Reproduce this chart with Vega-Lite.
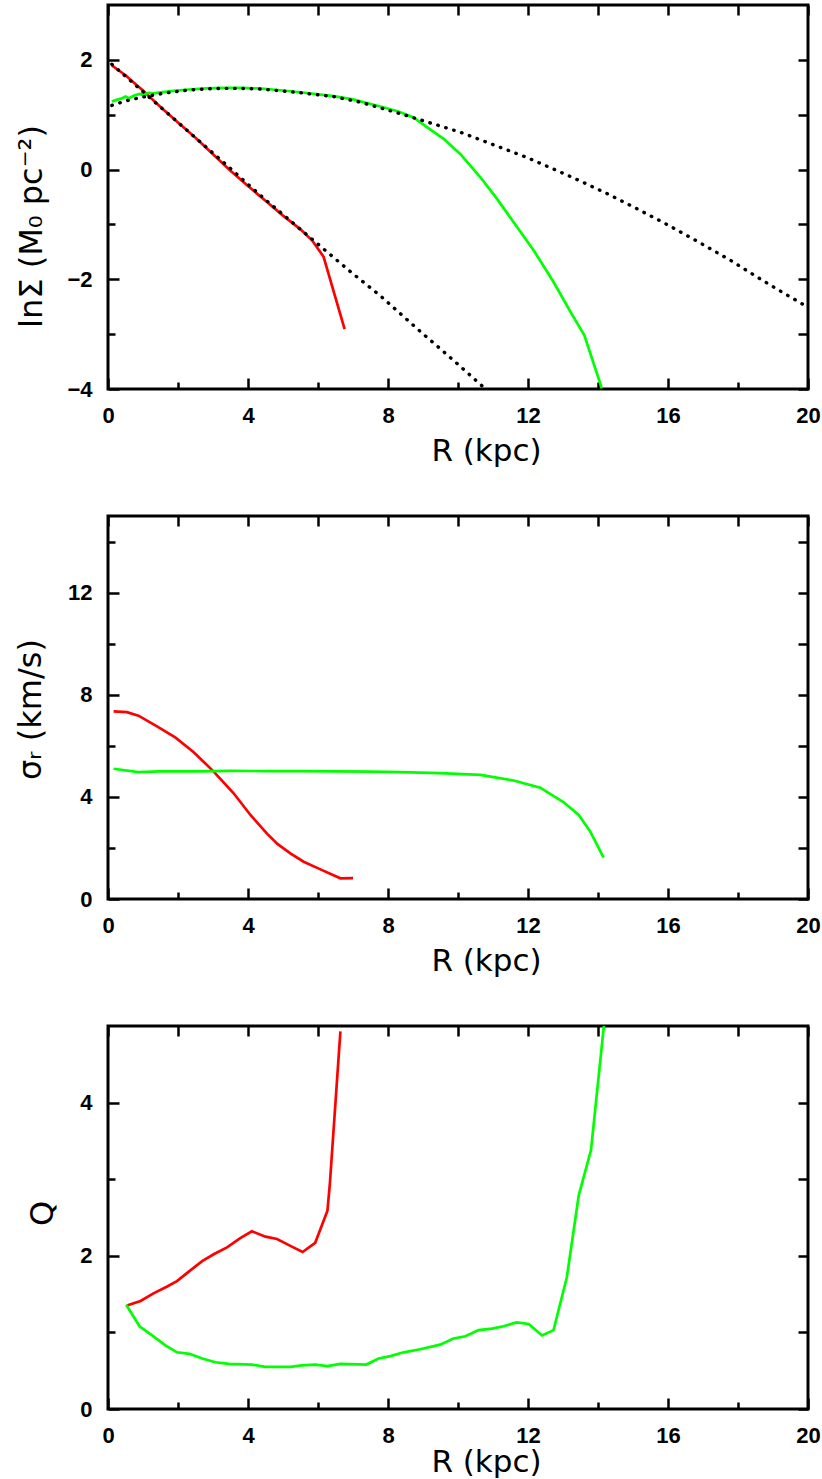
{
  "$schema": "https://vega.github.io/schema/vega-lite/v6.json",
  "padding": {"left": 12, "top": 2, "right": 0, "bottom": 0},
  "background": "white",
  "bounds": "flush",
  "spacing": 127,
  "config": {
    "view": {"stroke": "black", "strokeWidth": 3},
    "axis": {
      "labelFont": "Liberation Sans", "labelFontSize": 22, "labelFontWeight": "bold", "labelColor": "black",
      "titleFont": "DejaVu Sans", "titleFontSize": 31, "titleFontWeight": "normal", "titleColor": "black",
      "tickColor": "black", "tickWidth": 2.5, "domain": false, "grid": false,
      "labelFlush": false, "labelOverlap": false
    }
  },
  "datasets": {
    "p1": [
      {"R": 0.11, "v": 1.90, "s": "a"}, {"R": 0.3, "v": 1.81, "s": "a"}, {"R": 0.5, "v": 1.72, "s": "a"}, {"R": 0.75, "v": 1.58, "s": "a"},
      {"R": 1.0, "v": 1.44, "s": "a"}, {"R": 1.25, "v": 1.29, "s": "a"}, {"R": 1.5, "v": 1.14, "s": "a"}, {"R": 2.0, "v": 0.86, "s": "a"},
      {"R": 2.5, "v": 0.58, "s": "a"}, {"R": 3.0, "v": 0.28, "s": "a"}, {"R": 3.5, "v": -0.02, "s": "a"}, {"R": 4.0, "v": -0.30, "s": "a"},
      {"R": 4.5, "v": -0.57, "s": "a"}, {"R": 5.0, "v": -0.84, "s": "a"}, {"R": 5.5, "v": -1.09, "s": "a"}, {"R": 5.83, "v": -1.29, "s": "a"},
      {"R": 6.16, "v": -1.59, "s": "a"}, {"R": 6.76, "v": -2.91, "s": "a"},

      {"R": 0.11, "v": 1.92, "s": "b"}, {"R": 0.5, "v": 1.70, "s": "b"}, {"R": 1.0, "v": 1.42, "s": "b"}, {"R": 1.5, "v": 1.14, "s": "b"},
      {"R": 2.0, "v": 0.86, "s": "b"}, {"R": 2.5, "v": 0.58, "s": "b"}, {"R": 3.0, "v": 0.30, "s": "b"}, {"R": 3.5, "v": 0.02, "s": "b"},
      {"R": 4.0, "v": -0.27, "s": "b"}, {"R": 4.5, "v": -0.55, "s": "b"}, {"R": 5.0, "v": -0.82, "s": "b"}, {"R": 5.5, "v": -1.09, "s": "b"},
      {"R": 6.0, "v": -1.36, "s": "b"}, {"R": 6.5, "v": -1.63, "s": "b"}, {"R": 7.0, "v": -1.90, "s": "b"}, {"R": 7.78, "v": -2.30, "s": "b"},
      {"R": 8.5, "v": -2.71, "s": "b"}, {"R": 8.92, "v": -2.95, "s": "b"}, {"R": 9.5, "v": -3.27, "s": "b"}, {"R": 10.0, "v": -3.55, "s": "b"},
      {"R": 10.7, "v": -3.95, "s": "b"},

      {"R": 0.11, "v": 1.24, "s": "c"}, {"R": 0.25, "v": 1.27, "s": "c"}, {"R": 0.4, "v": 1.30, "s": "c"}, {"R": 0.5, "v": 1.33, "s": "c"},
      {"R": 0.6, "v": 1.30, "s": "c"}, {"R": 0.75, "v": 1.35, "s": "c"}, {"R": 0.9, "v": 1.38, "s": "c"}, {"R": 1.0, "v": 1.36, "s": "c"},
      {"R": 1.15, "v": 1.40, "s": "c"}, {"R": 1.3, "v": 1.39, "s": "c"}, {"R": 1.5, "v": 1.41, "s": "c"}, {"R": 1.8, "v": 1.43, "s": "c"},
      {"R": 2.3, "v": 1.46, "s": "c"}, {"R": 2.8, "v": 1.48, "s": "c"}, {"R": 3.3, "v": 1.49, "s": "c"}, {"R": 3.8, "v": 1.49, "s": "c"},
      {"R": 4.3, "v": 1.48, "s": "c"}, {"R": 4.7, "v": 1.46, "s": "c"}, {"R": 5.5, "v": 1.41, "s": "c"}, {"R": 6.45, "v": 1.34, "s": "c"},
      {"R": 7.0, "v": 1.28, "s": "c"}, {"R": 7.78, "v": 1.15, "s": "c"}, {"R": 8.3, "v": 1.06, "s": "c"}, {"R": 8.73, "v": 0.95, "s": "c"},
      {"R": 9.1, "v": 0.78, "s": "c"}, {"R": 9.59, "v": 0.56, "s": "c"}, {"R": 10.07, "v": 0.28, "s": "c"}, {"R": 10.64, "v": -0.14, "s": "c"},
      {"R": 11.11, "v": -0.53, "s": "c"}, {"R": 11.59, "v": -0.96, "s": "c"}, {"R": 12.16, "v": -1.47, "s": "c"}, {"R": 12.73, "v": -2.05, "s": "c"},
      {"R": 13.21, "v": -2.59, "s": "c"}, {"R": 13.61, "v": -3.02, "s": "c"}, {"R": 14.11, "v": -3.99, "s": "c"},

      {"R": 0.11, "v": 1.17, "s": "d"}, {"R": 0.5, "v": 1.25, "s": "d"}, {"R": 0.9, "v": 1.31, "s": "d"}, {"R": 1.4, "v": 1.37, "s": "d"},
      {"R": 1.8, "v": 1.41, "s": "d"}, {"R": 2.3, "v": 1.45, "s": "d"}, {"R": 2.8, "v": 1.47, "s": "d"}, {"R": 3.3, "v": 1.48, "s": "d"},
      {"R": 3.8, "v": 1.48, "s": "d"}, {"R": 4.3, "v": 1.47, "s": "d"}, {"R": 4.7, "v": 1.45, "s": "d"}, {"R": 5.5, "v": 1.40, "s": "d"},
      {"R": 6.45, "v": 1.33, "s": "d"}, {"R": 7.2, "v": 1.23, "s": "d"}, {"R": 7.92, "v": 1.10, "s": "d"}, {"R": 8.45, "v": 1.00, "s": "d"},
      {"R": 9.11, "v": 0.87, "s": "d"}, {"R": 10.07, "v": 0.68, "s": "d"}, {"R": 11.02, "v": 0.45, "s": "d"}, {"R": 11.97, "v": 0.22, "s": "d"},
      {"R": 12.87, "v": -0.03, "s": "d"}, {"R": 13.5, "v": -0.21, "s": "d"}, {"R": 14.2, "v": -0.42, "s": "d"}, {"R": 15.1, "v": -0.71, "s": "d"},
      {"R": 16.0, "v": -1.01, "s": "d"}, {"R": 16.9, "v": -1.33, "s": "d"}, {"R": 17.8, "v": -1.66, "s": "d"}, {"R": 18.6, "v": -1.98, "s": "d"},
      {"R": 19.3, "v": -2.25, "s": "d"}, {"R": 20.0, "v": -2.51, "s": "d"}
    ],
    "p2": [
      {"R": 0.16, "v": 7.35, "s": "a"}, {"R": 0.54, "v": 7.32, "s": "a"}, {"R": 0.87, "v": 7.18, "s": "a"}, {"R": 1.40, "v": 6.76, "s": "a"},
      {"R": 1.92, "v": 6.33, "s": "a"}, {"R": 2.45, "v": 5.75, "s": "a"}, {"R": 3.02, "v": 4.99, "s": "a"}, {"R": 3.59, "v": 4.14, "s": "a"},
      {"R": 4.07, "v": 3.29, "s": "a"}, {"R": 4.55, "v": 2.55, "s": "a"}, {"R": 4.85, "v": 2.15, "s": "a"}, {"R": 5.21, "v": 1.79, "s": "a"},
      {"R": 5.59, "v": 1.46, "s": "a"}, {"R": 6.07, "v": 1.16, "s": "a"}, {"R": 6.64, "v": 0.81, "s": "a"}, {"R": 7.0, "v": 0.82, "s": "a"},

      {"R": 0.16, "v": 5.10, "s": "c"}, {"R": 0.87, "v": 4.97, "s": "c"}, {"R": 1.5, "v": 5.00, "s": "c"}, {"R": 2.5, "v": 5.00, "s": "c"},
      {"R": 3.5, "v": 5.02, "s": "c"}, {"R": 4.5, "v": 5.01, "s": "c"}, {"R": 5.5, "v": 5.01, "s": "c"}, {"R": 6.5, "v": 5.00, "s": "c"},
      {"R": 7.5, "v": 4.99, "s": "c"}, {"R": 8.35, "v": 4.97, "s": "c"}, {"R": 9.49, "v": 4.93, "s": "c"}, {"R": 10.64, "v": 4.86, "s": "c"},
      {"R": 11.59, "v": 4.64, "s": "c"}, {"R": 12.35, "v": 4.36, "s": "c"}, {"R": 13.02, "v": 3.79, "s": "c"}, {"R": 13.45, "v": 3.29, "s": "c"},
      {"R": 13.78, "v": 2.64, "s": "c"}, {"R": 14.16, "v": 1.62, "s": "c"}
    ],
    "p3": [
      {"R": 0.54, "v": 1.35, "s": "a"}, {"R": 0.93, "v": 1.41, "s": "a"}, {"R": 1.30, "v": 1.51, "s": "a"}, {"R": 1.69, "v": 1.60, "s": "a"},
      {"R": 1.97, "v": 1.67, "s": "a"}, {"R": 2.30, "v": 1.79, "s": "a"}, {"R": 2.69, "v": 1.93, "s": "a"}, {"R": 3.02, "v": 2.02, "s": "a"},
      {"R": 3.40, "v": 2.11, "s": "a"}, {"R": 3.78, "v": 2.23, "s": "a"}, {"R": 4.11, "v": 2.32, "s": "a"}, {"R": 4.50, "v": 2.25, "s": "a"},
      {"R": 4.83, "v": 2.22, "s": "a"}, {"R": 5.21, "v": 2.13, "s": "a"}, {"R": 5.56, "v": 2.05, "s": "a"}, {"R": 5.92, "v": 2.17, "s": "a"},
      {"R": 6.27, "v": 2.59, "s": "a"}, {"R": 6.34, "v": 2.95, "s": "a"}, {"R": 6.64, "v": 4.93, "s": "a"},

      {"R": 0.52, "v": 1.36, "s": "c"}, {"R": 0.90, "v": 1.08, "s": "c"}, {"R": 1.26, "v": 0.96, "s": "c"}, {"R": 1.64, "v": 0.83, "s": "c"},
      {"R": 1.97, "v": 0.74, "s": "c"}, {"R": 2.33, "v": 0.72, "s": "c"}, {"R": 2.69, "v": 0.66, "s": "c"}, {"R": 3.07, "v": 0.61, "s": "c"},
      {"R": 3.45, "v": 0.59, "s": "c"}, {"R": 4.11, "v": 0.58, "s": "c"}, {"R": 4.49, "v": 0.55, "s": "c"}, {"R": 5.21, "v": 0.55, "s": "c"},
      {"R": 5.54, "v": 0.57, "s": "c"}, {"R": 5.92, "v": 0.58, "s": "c"}, {"R": 6.27, "v": 0.56, "s": "c"}, {"R": 6.64, "v": 0.59, "s": "c"},
      {"R": 7.38, "v": 0.58, "s": "c"}, {"R": 7.73, "v": 0.66, "s": "c"}, {"R": 8.07, "v": 0.69, "s": "c"}, {"R": 8.45, "v": 0.74, "s": "c"},
      {"R": 8.92, "v": 0.78, "s": "c"}, {"R": 9.49, "v": 0.84, "s": "c"}, {"R": 9.87, "v": 0.92, "s": "c"}, {"R": 10.21, "v": 0.95, "s": "c"},
      {"R": 10.59, "v": 1.03, "s": "c"}, {"R": 10.97, "v": 1.05, "s": "c"}, {"R": 11.30, "v": 1.08, "s": "c"}, {"R": 11.67, "v": 1.13, "s": "c"},
      {"R": 12.02, "v": 1.11, "s": "c"}, {"R": 12.40, "v": 0.96, "s": "c"}, {"R": 12.73, "v": 1.03, "s": "c"}, {"R": 13.11, "v": 1.72, "s": "c"},
      {"R": 13.45, "v": 2.79, "s": "c"}, {"R": 13.80, "v": 3.38, "s": "c"}, {"R": 14.17, "v": 5.01, "s": "c"}
    ]
  },
  "vconcat": [
    {
      "width": 700, "height": 384,
      "data": {"name": "p1"},
      "resolve": {"axis": {"x": "independent", "y": "independent"}},
      "layer": [
        {
          "transform": [{"filter": "datum.s === 'a'"}],
          "mark": {"type": "line", "color": "#ff0000", "strokeWidth": 2.7, "clip": true},
          "encoding": {
            "x": {"field": "R", "type": "quantitative", "scale": {"domain": [0, 20], "nice": false, "zero": false},
              "axis": {"orient": "bottom", "values": [0, 2, 4, 6, 8, 10, 12, 14, 16, 18, 20],
                "labelExpr": "datum.value % 4 === 0 ? datum.label : ''",
                "tickSize": {"condition": {"test": "datum.value % 4 === 0", "value": -11}, "value": -7},
                "labelPadding": 27, "title": "R (kpc)", "titleX": 378, "titleY": 71, "titleBaseline": "alphabetic"}},
            "y": {"field": "v", "type": "quantitative", "scale": {"domain": [-4, 3], "nice": false, "zero": false},
              "axis": {"orient": "left", "values": [-4, -3, -2, -1, 0, 1, 2],
                "labelExpr": "datum.value % 2 === 0 ? datum.label : ''",
                "tickSize": {"condition": {"test": "datum.value % 2 === 0", "value": -11}, "value": -7},
                "labelPadding": 27, "title": "lnΣ (M₀ pc⁻²)", "titleFontSize": 32, "titleX": -67, "titleY": 221,
                "titleBaseline": "alphabetic", "titleAngle": 270, "titleAlign": "center"}}
          }
        },
        {
          "transform": [{"filter": "datum.s === 'c'"}],
          "mark": {"type": "line", "color": "#00ff00", "strokeWidth": 2.7, "clip": true},
          "encoding": {
            "x": {"field": "R", "type": "quantitative",
              "axis": {"orient": "top", "values": [0, 2, 4, 6, 8, 10, 12, 14, 16, 18, 20], "labels": false, "tickSize": -10, "title": null}},
            "y": {"field": "v", "type": "quantitative",
              "axis": {"orient": "right", "values": [-4, -3, -2, -1, 0, 1, 2], "labels": false, "tickSize": -10, "title": null}}
          }
        },
        {
          "transform": [{"filter": "datum.s === 'b' || datum.s === 'd'"}],
          "mark": {"type": "line", "color": "black", "strokeWidth": 3.4, "strokeDash": [0.5, 7.8], "strokeCap": "round", "clip": true},
          "encoding": {
            "x": {"field": "R", "type": "quantitative", "axis": null},
            "y": {"field": "v", "type": "quantitative", "axis": null},
            "detail": {"field": "s"}
          }
        }
      ]
    },
    {
      "width": 700, "height": 383,
      "data": {"name": "p2"},
      "resolve": {"axis": {"x": "independent", "y": "independent"}},
      "layer": [
        {
          "transform": [{"filter": "datum.s === 'a'"}],
          "mark": {"type": "line", "color": "#ff0000", "strokeWidth": 2.7, "clip": true},
          "encoding": {
            "x": {"field": "R", "type": "quantitative", "scale": {"domain": [0, 20], "nice": false, "zero": false},
              "axis": {"orient": "bottom", "values": [0, 2, 4, 6, 8, 10, 12, 14, 16, 18, 20],
                "labelExpr": "datum.value % 4 === 0 ? datum.label : ''",
                "tickSize": {"condition": {"test": "datum.value % 4 === 0", "value": -11}, "value": -7},
                "labelPadding": 27, "title": "R (kpc)", "titleX": 378, "titleY": 71, "titleBaseline": "alphabetic"}},
            "y": {"field": "v", "type": "quantitative", "scale": {"domain": [0, 15], "nice": false, "zero": false},
              "axis": {"orient": "left", "values": [0, 2, 4, 6, 8, 10, 12, 14],
                "labelExpr": "datum.value % 4 === 0 ? datum.label : ''",
                "tickSize": {"condition": {"test": "datum.value % 4 === 0", "value": -11}, "value": -7},
                "labelPadding": 27, "title": "σᵣ (km/s)", "titleFontSize": 32, "titleX": -68, "titleY": 193,
                "titleBaseline": "alphabetic", "titleAngle": 270, "titleAlign": "center"}}
          }
        },
        {
          "transform": [{"filter": "datum.s === 'c'"}],
          "mark": {"type": "line", "color": "#00ff00", "strokeWidth": 2.7, "clip": true},
          "encoding": {
            "x": {"field": "R", "type": "quantitative",
              "axis": {"orient": "top", "values": [0, 2, 4, 6, 8, 10, 12, 14, 16, 18, 20], "labels": false, "tickSize": -10, "title": null}},
            "y": {"field": "v", "type": "quantitative",
              "axis": {"orient": "right", "values": [0, 2, 4, 6, 8, 10, 12, 14], "labels": false, "tickSize": -10, "title": null}}
          }
        }
      ]
    },
    {
      "width": 700, "height": 383,
      "data": {"name": "p3"},
      "resolve": {"axis": {"x": "independent", "y": "independent"}},
      "layer": [
        {
          "transform": [{"filter": "datum.s === 'a'"}],
          "mark": {"type": "line", "color": "#ff0000", "strokeWidth": 2.7, "clip": true},
          "encoding": {
            "x": {"field": "R", "type": "quantitative", "scale": {"domain": [0, 20], "nice": false, "zero": false},
              "axis": {"orient": "bottom", "values": [0, 2, 4, 6, 8, 10, 12, 14, 16, 18, 20],
                "labelExpr": "datum.value % 4 === 0 ? datum.label : ''",
                "tickSize": {"condition": {"test": "datum.value % 4 === 0", "value": -11}, "value": -7},
                "labelPadding": 27, "title": "R (kpc)", "titleX": 378, "titleY": 62, "titleBaseline": "alphabetic"}},
            "y": {"field": "v", "type": "quantitative", "scale": {"domain": [0, 5], "nice": false, "zero": false},
              "axis": {"orient": "left", "values": [0, 1, 2, 3, 4],
                "labelExpr": "datum.value % 2 === 0 ? datum.label : ''",
                "tickSize": {"condition": {"test": "datum.value % 2 === 0", "value": -11}, "value": -7},
                "labelPadding": 27, "title": "Q", "titleFontSize": 32, "titleX": -56, "titleY": 187,
                "titleBaseline": "alphabetic", "titleAngle": 270, "titleAlign": "center"}}
          }
        },
        {
          "transform": [{"filter": "datum.s === 'c'"}],
          "mark": {"type": "line", "color": "#00ff00", "strokeWidth": 2.7, "clip": true},
          "encoding": {
            "x": {"field": "R", "type": "quantitative",
              "axis": {"orient": "top", "values": [0, 2, 4, 6, 8, 10, 12, 14, 16, 18, 20], "labels": false, "tickSize": -10, "title": null}},
            "y": {"field": "v", "type": "quantitative",
              "axis": {"orient": "right", "values": [0, 1, 2, 3, 4], "labels": false, "tickSize": -10, "title": null}}
          }
        }
      ]
    }
  ]
}
